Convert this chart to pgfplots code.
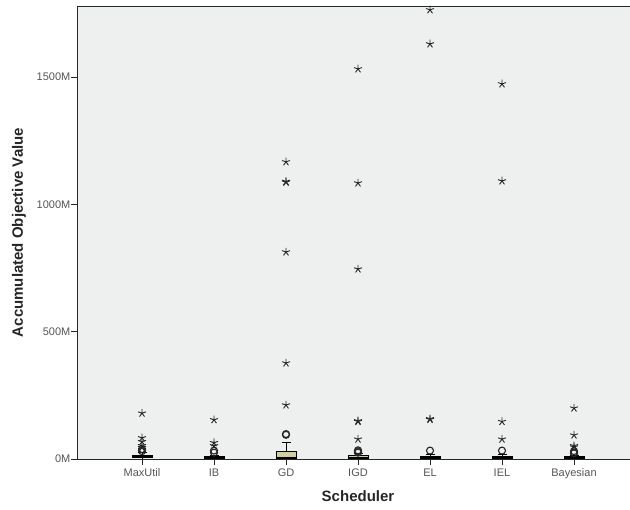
\documentclass[border=0pt]{standalone}
\usepackage{fontspec}
\setmainfont{Liberation Sans}
\usepackage{pgfplots}
\pgfplotsset{compat=1.18}
\usepgfplotslibrary{statistics}
\definecolor{plotbg}{RGB}{238,240,239}
\definecolor{boxfill}{RGB}{212,207,154}
\definecolor{ticktext}{RGB}{85,85,85}

\begin{document}
\begin{tikzpicture}
% the reference is cut off at the right and the top
\path[use as bounding box, clip] (-77pt,-51pt) rectangle (553pt,459pt);
\begin{axis}[
    scale only axis, width=562pt, height=453pt,
    xmin=-0.9028, xmax=6.9028,
    ymin=0, ymax=1779,
    axis background/.style={fill=plotbg},
    axis line style={black!85, line width=0.8pt},
    xtick={0,...,6},
    xticklabels={MaxUtil,IB,GD,IGD,EL,IEL,Bayesian},
    ytick={0,500,1000,1500},
    yticklabels={0M,500M,1000M,1500M},
    tick align=outside, xtick pos=bottom, ytick pos=left,
    major tick length=6pt,
    tick style={black!85, line width=0.8pt},
    ticklabel style={font=\fontsize{11}{13}\selectfont, text=ticktext},
    yticklabel style={inner xsep=0.5pt},
    /pgf/number format/assume math mode=true,
    xlabel={Scheduler},
    ylabel={Accumulated Objective Value},
    every axis x label/.style={at={(rel axis cs:0.5,0)}, yshift=-37pt, anchor=center,
        font=\fontsize{15}{18}\selectfont\bfseries, text=black!85},
    every axis y label/.style={at={(rel axis cs:0,0.5)}, xshift=-58pt, rotate=90, anchor=center,
        font=\fontsize{15}{18}\selectfont\bfseries, text=black!85},
    boxplot/draw direction=y,
    boxplot/box extend=0.28,
    boxplot/whisker extend=0.125,
    boxplot/every box/.style={draw=black, fill=boxfill, line width=0.8pt},
    boxplot/every median/.style={draw=black, line width=1.6pt},
    boxplot/every whisker/.style={draw=black, line width=0.8pt},
]
% boxes (values in millions)
\addplot[boxplot prepared={draw position=0, lower whisker=0, lower quartile=5, median=9, upper quartile=16, upper whisker=25}, black] coordinates {};
\addplot[boxplot prepared={draw position=1, lower whisker=0, lower quartile=2, median=4, upper quartile=9, upper whisker=15}, black] coordinates {};
\addplot[boxplot prepared={draw position=2, lower whisker=0, lower quartile=2, median=5, upper quartile=30, upper whisker=65}, black] coordinates {};
\addplot[boxplot prepared={draw position=3, lower whisker=0, lower quartile=3, median=6, upper quartile=14, upper whisker=22}, black] coordinates {};
\addplot[boxplot prepared={draw position=4, lower whisker=0, lower quartile=2, median=5, upper quartile=11, upper whisker=20}, black] coordinates {};
\addplot[boxplot prepared={draw position=5, lower whisker=0, lower quartile=2, median=4, upper quartile=10, upper whisker=18}, black] coordinates {};
\addplot[boxplot prepared={draw position=6, lower whisker=0, lower quartile=2, median=5, upper quartile=11, upper whisker=15}, black] coordinates {};

% extreme values
\addplot[only marks, mark=star, mark size=4.2pt, black!85, line width=0.9pt] coordinates {
    (0,180) (0,83) (0,68) (0,52) (0,45)
    (1,154) (1,64) (1,52)
    (2,1167) (2,1090) (2,1087) (2,813) (2,377) (2,212)
    (3,1532) (3,1084) (3,746) (3,150) (3,147) (3,78)
    (4,1764) (4,1630) (4,158) (4,155)
    (5,1473) (5,1092) (5,147) (5,78)
    (6,200) (6,94) (6,52) (6,47)
};
% outliers
\addplot[only marks, mark=o, mark size=3.5pt, black!85, line width=1.1pt] coordinates {
    (0,39) (0,31)
    (1,33) (1,25)
    (2,98) (2,95)
    (3,34) (3,30) (3,25)
    (4,33)
    (5,33)
    (6,31) (6,24) (6,22)
};
\end{axis}
\end{tikzpicture}
\end{document}
